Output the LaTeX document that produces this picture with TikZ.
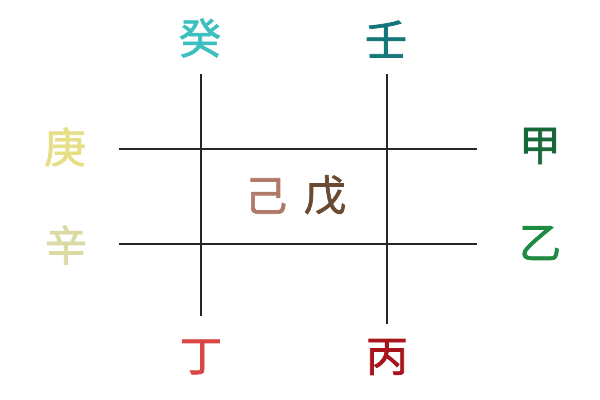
\documentclass[tikz,border=0pt]{standalone}
\usepackage{fontspec}
\newfontfamily\cjk{Noto Sans CJK SC}[FakeBold=1.6]
\usetikzlibrary{calc}

\definecolor{guiCol}{HTML}{3DBFBF}
\definecolor{renCol}{HTML}{16777A}
\definecolor{gengCol}{HTML}{E6DF86}
\definecolor{xinCol}{HTML}{DADAA2}
\definecolor{jiaCol}{HTML}{18683A}
\definecolor{yiCol}{HTML}{1E8A42}
\definecolor{dingCol}{HTML}{D94646}
\definecolor{bingCol}{HTML}{A8141C}
\definecolor{jiCol}{HTML}{B07A6A}
\definecolor{wuCol}{HTML}{6A4A32}

\tikzset{
    stem/.style={font=\cjk\fontsize{30}{30}\selectfont, inner sep=0pt},
    grid line/.style={draw=black!85, line width=1.4pt}
}

\begin{document}
\begin{tikzpicture}[x=0.025cm, y=-0.025cm]

        \useasboundingbox[fill=white] (0,0) rectangle (600,400);

        % Grid
        \coordinate (vl top) at (201,74);
        \coordinate (vl bot) at (201,316);
        \coordinate (vr top) at (387,74);
        \coordinate (vr bot) at (387,324);
        \coordinate (hu left) at (119,149);
        \coordinate (hu right) at (477,149);
        \coordinate (hd left) at (119,244);
        \coordinate (hd right) at (477,244);

        \draw[grid line] (vl top) -- (vl bot);
        \draw[grid line] (vr top) -- (vr bot);
        \draw[grid line] (hu left) -- (hu right);
        \draw[grid line] (hd left) -- (hd right);

        % Stems
        \node[stem, text=guiCol] (gui) at (200,38) {癸};
        \node[stem, text=renCol] (ren) at (386,39) {壬};
        \node[stem, text=gengCol] (geng) at (65,147) {庚};
        \node[stem, text=xinCol] (xin) at (66,245) {辛};
        \node[stem, text=jiaCol] (jia) at (540,146) {甲};
        \node[stem, text=yiCol] (yi) at (540,243) {乙};
        \node[stem, text=dingCol] (ding) at (201,357) {丁};
        \node[stem, text=bingCol] (bing) at (387,357) {丙};

        % Centre
        \node[stem, text=jiCol] (ji) at (266,196) {己};
        \node[stem, text=wuCol] (wu) at (325,195) {戊};

    \end{tikzpicture}
\end{document}
